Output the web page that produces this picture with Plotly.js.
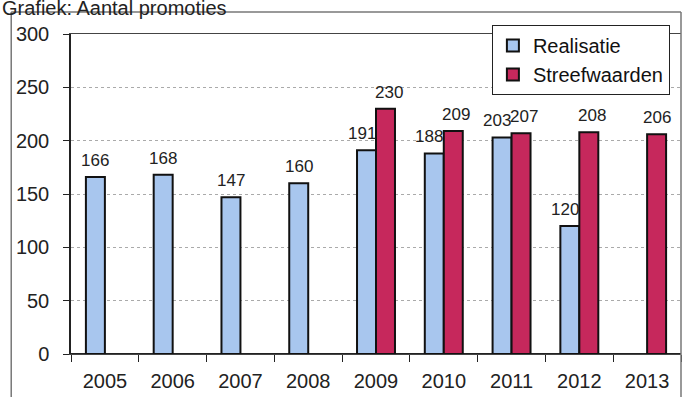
<!DOCTYPE html>
<html><head><meta charset="utf-8">
<script src="https://cdn.plot.ly/plotly-3.0.1.min.js"></script>
<style>body{margin:0;background:#fff}#c{width:684px;height:397px}</style>
</head><body><div id="c"></div>
<script>
const years = ['2005','2006','2007','2008','2009','2010','2011','2012','2013'];
const realisatie = [166,168,147,160,191,188,203,120,null];
const streefwaarden = [null,null,null,null,230,209,207,208,206];
const yTicks = [0,50,100,150,200,250,300];

const font = 'Liberation Sans, Arial, sans-serif';

const traces = [
  {type:'bar', name:'Realisatie', x:years, y:realisatie,
   marker:{color:'#a8c6ee', line:{color:'#111', width:2}}},
  {type:'bar', name:'Streefwaarden', x:years, y:streefwaarden,
   marker:{color:'#c6285c', line:{color:'#111', width:2}}}
];

// value labels above bars, built from the data arrays (x = category index);
// when both bars of a year carry a label, push the two labels apart a little
const labelAnn = [];
[[realisatie,streefwaarden,-9.5,-5],[streefwaarden,realisatie,9.5,3]].forEach(([vals,other,dx,extra]) => {
  vals.forEach((v,i) => {
    if (v == null) return;
    const shift = dx + (other[i] != null ? extra : 0);
    labelAnn.push({x:i, y:v, xref:'x', yref:'y', text:String(v), showarrow:false,
      xanchor:'center', yanchor:'bottom', xshift:shift, yshift:5,
      font:{family:font, size:17, color:'#222'}});
  });
});

const layout = {
  width:684, height:397,
  margin:{l:71, r:3, t:34, b:43},
  paper_bgcolor:'#fff', plot_bgcolor:'#fff',
  font:{family:font, color:'#222'},
  barmode:'group', bargap:0.44, bargroupgap:0,
  showlegend:true,
  legend:{x:0.69, y:1.028, xanchor:'left', yanchor:'top',
    bgcolor:'#fff', bordercolor:'#222', borderwidth:1,
    font:{family:font, size:20, color:'#111'}, tracegroupgap:2, itemwidth:30},
  xaxis:{type:'category', range:[-0.5,8.5], showline:true, mirror:true, linecolor:'#444', linewidth:1.2,
    ticks:'outside', tickson:'boundaries',
    ticklen:7, tickcolor:'#222', ticklabelstandoff:9,
    tickfont:{family:font,size:20,color:'#222'},
    showgrid:false},
  yaxis:{range:[0,300], tickvals:yTicks, ticks:'outside', ticklen:6, tickcolor:'#222',
    showline:true, linecolor:'#222', linewidth:1.5, ticklabelstandoff:10,
    tickfont:{family:font,size:20,color:'#222'},
    showgrid:true, gridcolor:'#aaa', griddash:'dot', gridwidth:1,
    zeroline:true, zerolinecolor:'#222', zerolinewidth:1.5},
  shapes:[
    {type:'line', xref:'paper', yref:'paper', x0:-0.098, x1:-0.098, y0:-0.2, y1:1.069, line:{color:'#777',width:1.5}},
    {type:'line', xref:'paper', yref:'paper', x0:-0.098, x1:1.0, y0:1.069, y1:1.069, line:{color:'#777',width:1.5}},
    {type:'line', xref:'paper', yref:'paper', x0:1.0, x1:1.0, y0:-0.2, y1:1.069, line:{color:'#777',width:1.5}}
  ],
  annotations:[
    {text:'Grafiek: Aantal promoties', xref:'paper', yref:'paper', x:-0.117, y:1.08,
     xanchor:'left', yanchor:'middle', showarrow:false,
     font:{family:font,size:20,color:'#222'}}
  ].concat(labelAnn)
};
Plotly.newPlot('c', traces, layout, {displayModeBar:false});
</script></body></html>
